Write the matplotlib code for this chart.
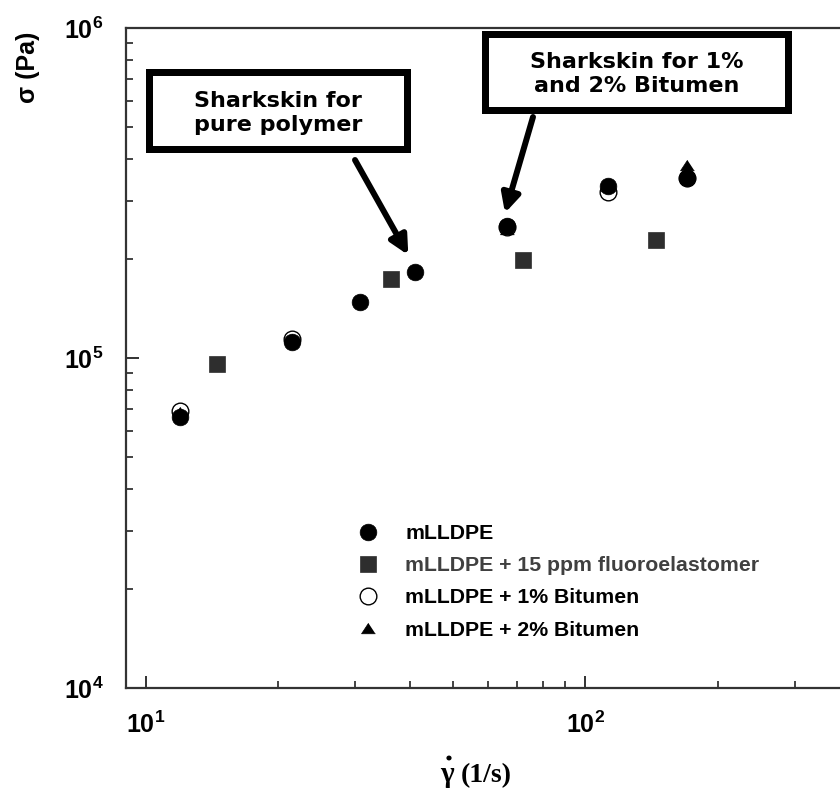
import math
import matplotlib
matplotlib.use("Agg")
import matplotlib.pyplot as plt
from matplotlib.ticker import FixedLocator, LogLocator, FuncFormatter, NullFormatter
from matplotlib.patches import Rectangle, Circle

plt.rcParams['font.family'] = ['Liberation Sans', 'DejaVu Sans']
plt.rcParams['mathtext.fontset'] = 'custom'
plt.rcParams['mathtext.rm'] = 'Liberation Sans:bold'
plt.rcParams['mathtext.bf'] = 'Liberation Sans:bold'
plt.rcParams['mathtext.it'] = 'Liberation Sans:bold'

# ---- data ----
pure_x = [12.0, 21.5, 30.7, 41.0, 66.5, 112.7, 170.0]
pure_y = [66400, 111500, 148000, 182600, 252000, 332000, 350000]

fluoro_x = [14.5, 36.1, 72.3, 144.7]
fluoro_y = [95900, 173500, 198000, 227300]

bit1_x = [12.0, 21.5, 66.5, 112.7, 170.0]
bit1_y = [69300, 114500, 250000, 319000, 352000]

bit2_x = [12.0, 21.5, 66.5, 112.7, 170.0]
bit2_y = [68500, 114000, 246000, 331000, 385000]

labels = ["mLLDPE", "mLLDPE + 15 ppm fluoroelastomer",
          "mLLDPE + 1% Bitumen", "mLLDPE + 2% Bitumen"]
x_ticks = [10, 100]
y_ticks = [1e4, 1e5, 1e6]
note1 = "Sharkskin for\npure polymer"
note2 = "Sharkskin for 1%\nand 2% Bitumen"

W, H = 840, 792
fig = plt.figure(figsize=(W / 100, H / 100), dpi=100)
ax = fig.add_axes([125.5 / W, 1 - 688 / H, 1 - 125.5 / W, 660 / H])
ax.set_xscale('log')
ax.set_yscale('log')
ax.set_xlim(9.0, 379.5)
ax.set_ylim(1e4, 1e6)

tri = [(0, 0.76), (-1, -0.76), (1, -0.76)]
h_open, = ax.plot(bit1_x, bit1_y, ls='none', marker='o', ms=12, mfc='white',
                  mec='black', mew=1.0, zorder=3)
h_pure, = ax.plot(pure_x, pure_y, ls='none', marker='o', ms=12, mfc='black',
                  mec='black', mew=0.5, zorder=4)
h_tri, = ax.plot(bit2_x, bit2_y, ls='none', marker=tri, ms=10, mfc='black',
                 mec='black', mew=0.5, zorder=5)
h_sq, = ax.plot(fluoro_x, fluoro_y, ls='none', marker='s', ms=12, mfc='#2e2e2e',
                mec='#2e2e2e', mew=0.5, zorder=6)

for s in ['left', 'bottom', 'top']:
    ax.spines[s].set_linewidth(1.6)
    ax.spines[s].set_color('#333333')
ax.spines['right'].set_visible(False)

fmt = FuncFormatter(lambda v, p: r'$\mathbf{10^{%d}}$' % round(math.log10(v)))
ax.xaxis.set_major_locator(FixedLocator(x_ticks))
ax.yaxis.set_major_locator(FixedLocator(y_ticks))
ax.xaxis.set_minor_locator(LogLocator(base=10, subs=range(2, 10)))
ax.yaxis.set_minor_locator(LogLocator(base=10, subs=range(2, 10)))
ax.xaxis.set_major_formatter(fmt)
ax.yaxis.set_major_formatter(fmt)
ax.xaxis.set_minor_formatter(NullFormatter())
ax.yaxis.set_minor_formatter(NullFormatter())
ax.tick_params(which='major', direction='in', length=9, width=1.3, color='#222222',
               labelsize=18, top=False, right=False)
ax.tick_params(which='minor', direction='in', length=5, width=1.2, color='#222222',
               top=False, right=False)
ax.tick_params(axis='y', which='major', pad=16)
ax.tick_params(axis='x', which='major', pad=17)

# axis labels
fig.text(27.5 / W, 1 - 67 / H, "σ (Pa)", rotation=90, ha='center', va='center',
         fontsize=18, fontweight='bold', family=['Liberation Sans', 'DejaVu Sans'])

fig.text(440 / W, 1 - 782 / H, "γ", ha='left', va='baseline',
         fontsize=21, fontweight='bold', family='Liberation Serif')
fig.text(461 / W, 1 - 782 / H, "(1/s)", ha='left', va='baseline',
         fontsize=20, fontweight='bold', family='Liberation Serif')
# overdot of gamma-dot
fig.add_artist(Circle((449 / W, 1 - 758 / H), 2.6 / W, transform=fig.transFigure,
                      facecolor='black', edgecolor='none'))

# legend
leg = fig.legend([h_pure, h_sq, h_open, h_tri], labels, loc='upper left',
                 bbox_to_anchor=(358.7 / W, 1 - 524 / H), frameon=False,
                 handlelength=0.9, handletextpad=1.3, labelspacing=0.62,
                 borderpad=0, borderaxespad=0,
                 prop={'family': 'Liberation Sans', 'weight': 'bold', 'size': 15.3})
leg.get_texts()[1].set_color('#404040')

# annotation boxes
def box(x0, y0, x1, y1):
    lw_px = 7
    r = Rectangle(((x0 + lw_px / 2) / W, 1 - (y1 - lw_px / 2) / H),
                  (x1 - x0 - lw_px) / W, (y1 - y0 - lw_px) / H,
                  transform=fig.transFigure, fill=True, facecolor='white',
                  edgecolor='black', linewidth=lw_px * 0.72, zorder=10)
    fig.add_artist(r)

box(145, 68.3, 410.7, 152.3)
fig.text(277.7 / W, 1 - 113 / H, note1, ha='center', va='center', fontsize=16,
         fontweight='bold', family='DejaVu Sans', linespacing=1.2, zorder=11)
box(481.7, 30, 791.7, 113.3)
fig.text(636.7 / W, 1 - 74 / H, note2, ha='center', va='center', fontsize=16,
         fontweight='bold', family='DejaVu Sans', linespacing=1.2, zorder=11)

arrow = dict(arrowstyle='-|>,head_length=1.1,head_width=0.55', color='black',
             lw=4.3, shrinkA=0, shrinkB=0)
ax.annotate('', xy=(408.3, H - 255), xycoords='figure pixels',
            xytext=(355, H - 160), textcoords='figure pixels', arrowprops=arrow, zorder=12)
ax.annotate('', xy=(505, H - 213), xycoords='figure pixels',
            xytext=(533, H - 117), textcoords='figure pixels', arrowprops=arrow, zorder=12)

fig.savefig('out.png', dpi=100)
